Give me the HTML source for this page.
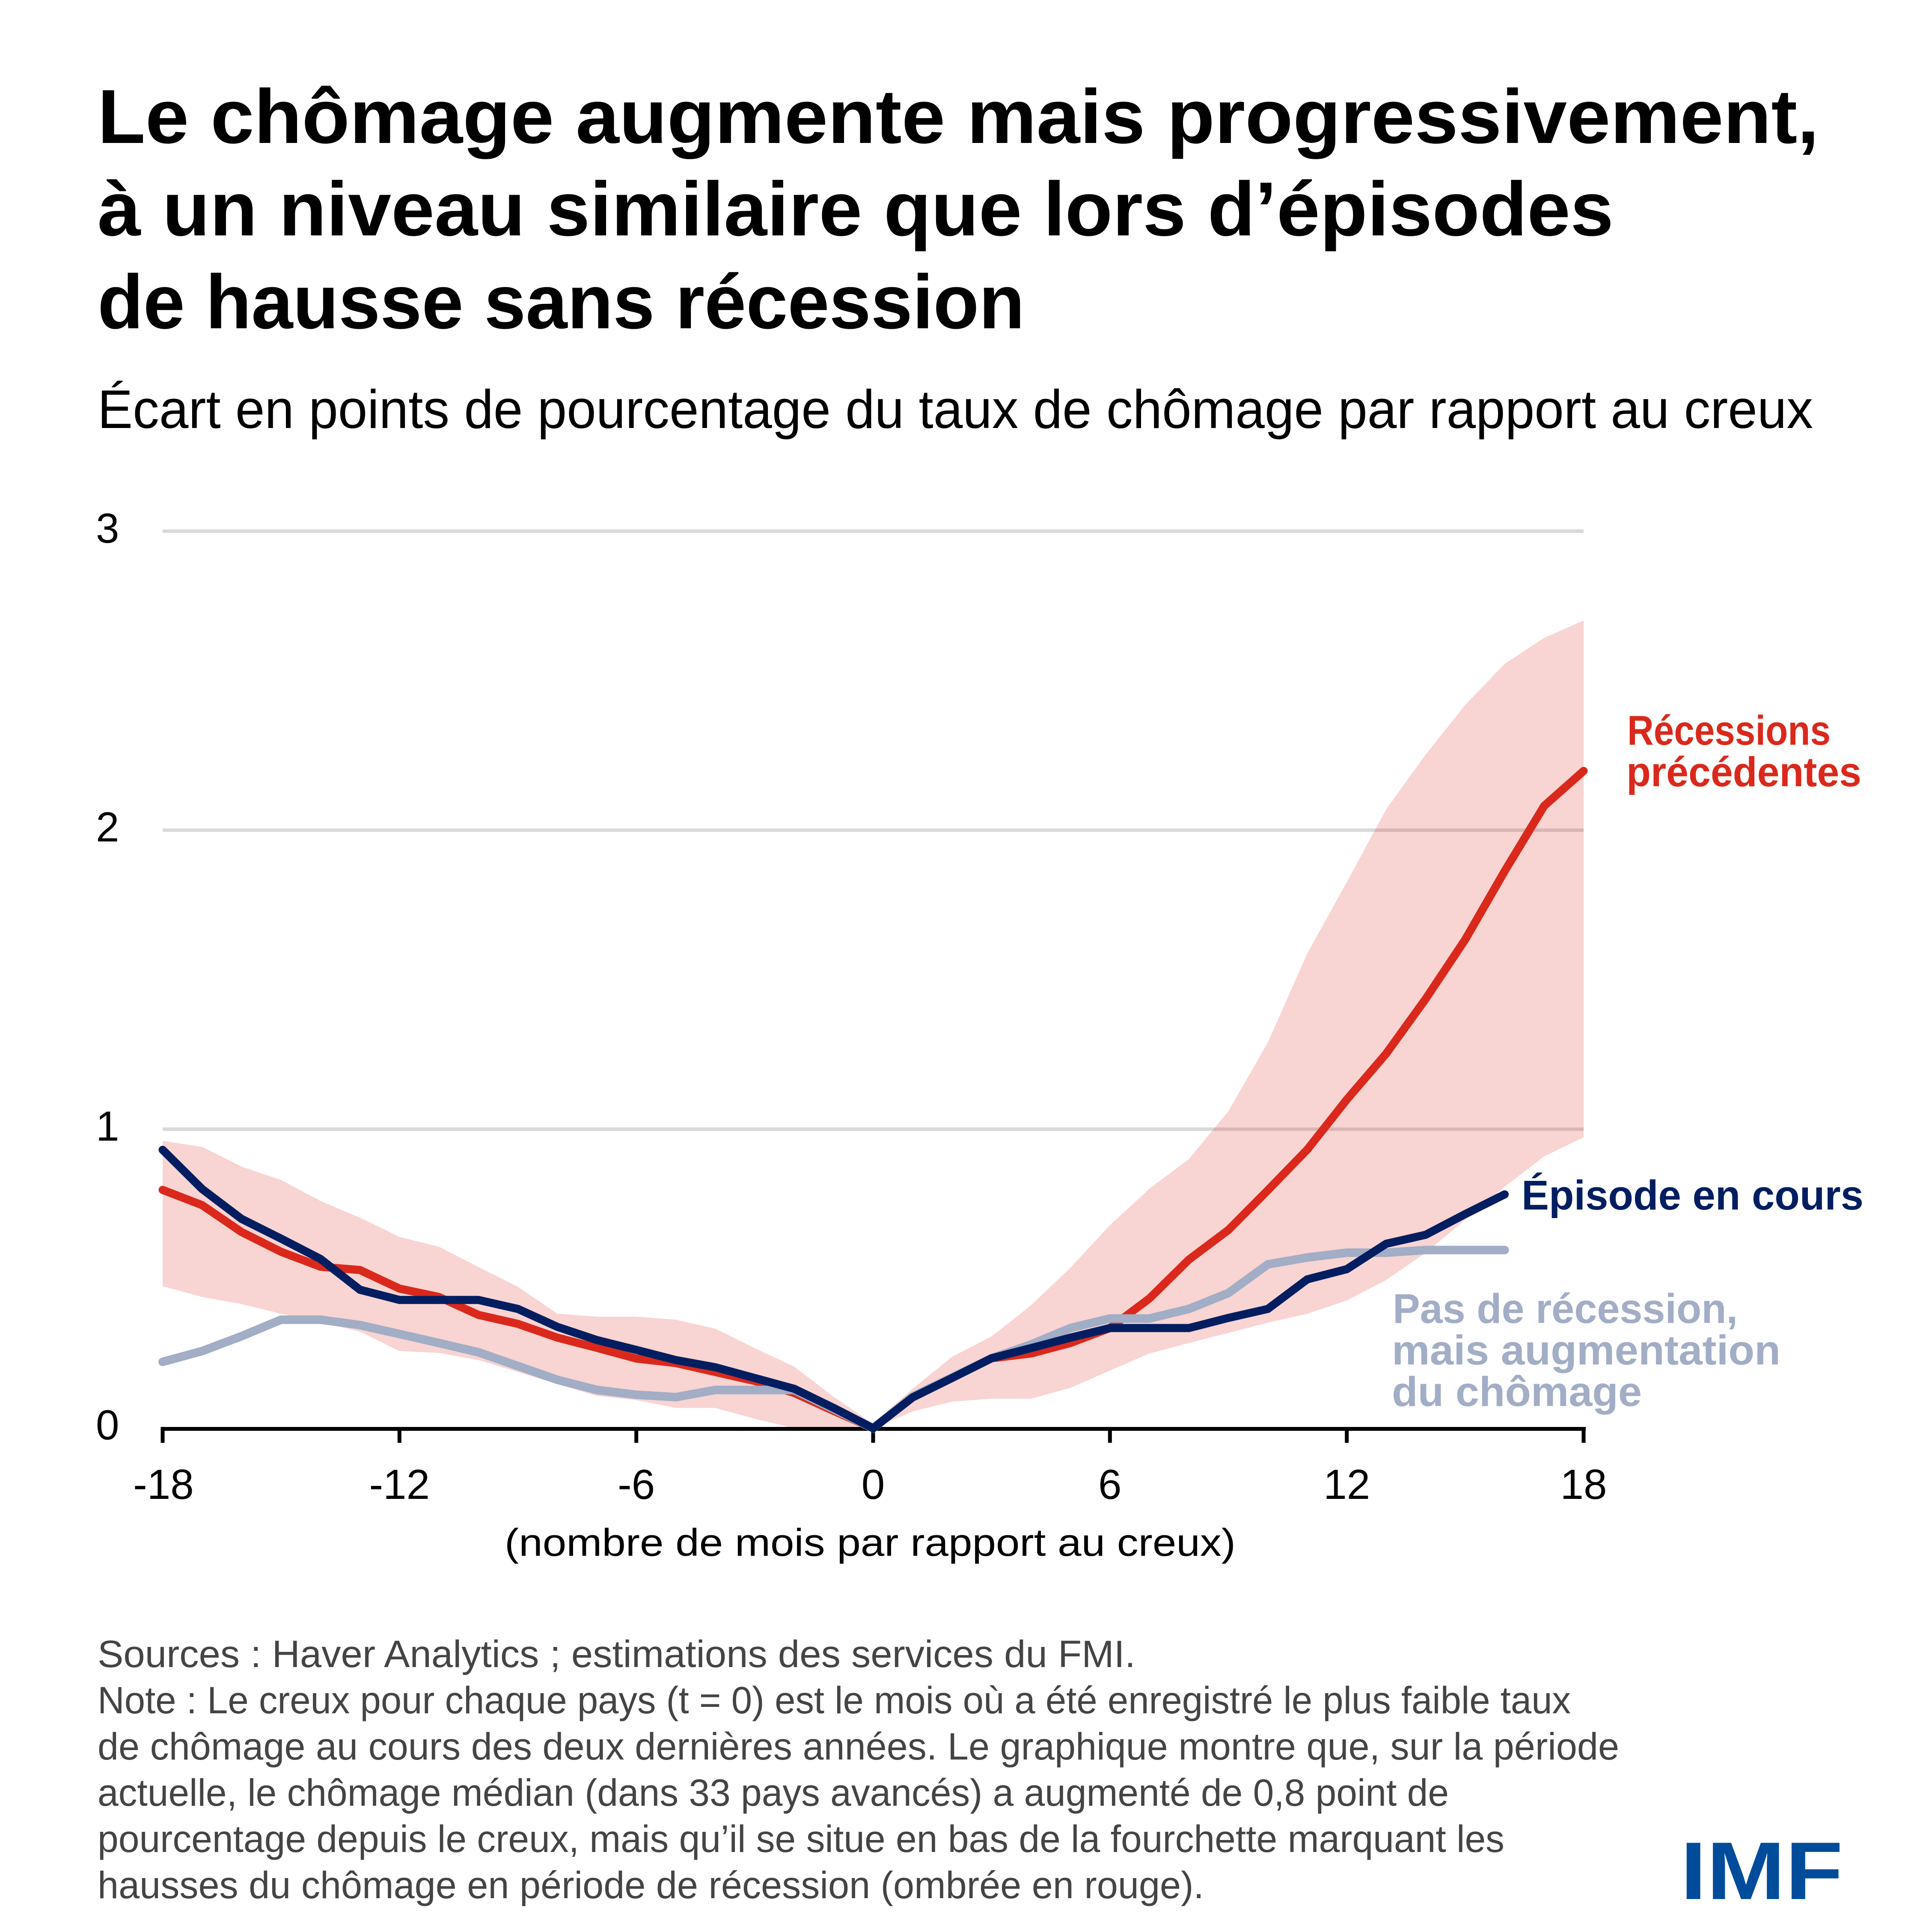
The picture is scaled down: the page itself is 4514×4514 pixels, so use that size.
<!DOCTYPE html>
<html><head><meta charset="utf-8"><style>
html,body{margin:0;padding:0;background:#fff;}
svg{display:block;}
text{font-family:"Liberation Sans",Arial,sans-serif;}
</style></head><body>
<svg width="4514" height="4514" viewBox="0 0 4514 4514" xmlns="http://www.w3.org/2000/svg">
<rect x="0" y="0" width="4514" height="4514" fill="#fff"/>
<!-- Title -->
<g font-weight="700" font-size="179" fill="#000">
<text x="228" y="334" textLength="4022" lengthAdjust="spacingAndGlyphs">Le chômage augmente mais progressivement,</text>
<text x="228" y="550" textLength="3542" lengthAdjust="spacingAndGlyphs">à un niveau similaire que lors d’épisodes</text>
<text x="228" y="767" textLength="2166" lengthAdjust="spacingAndGlyphs">de hausse sans récession</text>
</g>
<text x="228" y="1000" font-size="127" fill="#000" textLength="4008" lengthAdjust="spacingAndGlyphs">Écart en points de pourcentage du taux de chômage par rapport au creux</text>

<!-- gridlines -->
<g stroke="#d9d9d9" stroke-width="8">
<line x1="380" y1="1241" x2="3700" y2="1241"/>
<line x1="380" y1="1939.6" x2="3700" y2="1939.6"/>
<line x1="380" y1="2638.3" x2="3700" y2="2638.3"/>
</g>

<!-- y labels -->
<g font-size="98" fill="#000">
<text x="224" y="1268">3</text>
<text x="224" y="1966">2</text>
<text x="224" y="2665">1</text>
<text x="224" y="3363">0</text>
</g>

<!-- data group -->
<g transform="translate(2040,3337) scale(92.2222,-698.7)">
<polygon fill="#da291c" fill-opacity="0.2" points="-18,0.961 -17,0.941 -16,0.875 -15,0.830 -14,0.760 -13,0.704 -12,0.640 -11,0.607 -10,0.539 -9,0.473 -8,0.383 -7,0.373 -6,0.373 -5,0.363 -4,0.333 -3,0.268 -2,0.206 -1,0.105 0,0.015 1,0.132 2,0.239 3,0.307 4,0.411 5,0.537 6,0.679 7,0.801 8,0.9 9,1.06 10,1.29 11,1.588 12,1.826 13,2.07 14,2.253 15,2.419 16,2.556 17,2.643 18,2.701 18,0.973 17,0.909 16,0.808 15,0.697 14,0.587 13,0.496 12,0.427 11,0.383 10,0.353 9,0.319 8,0.285 7,0.25 6,0.193 5,0.135 4,0.099 3,0.099 2,0.089 1,0.056 0,0 -1,0 -2,0 -3,0.032 -4,0.068 -5,0.068 -6,0.094 -7,0.108 -8,0.148 -9,0.188 -10,0.228 -11,0.252 -12,0.258 -13,0.323 -14,0.355 -15,0.383 -16,0.415 -17,0.439 -18,0.475"/>
</g>

<!-- axis -->
<rect x="376" y="3334" width="3329" height="9" fill="#000"/>
<g fill="#000">
<rect x="375.5" y="3334" width="9" height="37"/>
<rect x="928.8" y="3334" width="9" height="37"/>
<rect x="1482.2" y="3334" width="9" height="37"/>
<rect x="2035.5" y="3334" width="9" height="37"/>
<rect x="2588.8" y="3334" width="9" height="37"/>
<rect x="3142.2" y="3334" width="9" height="37"/>
<rect x="3695.5" y="3334" width="9" height="37"/>
</g>
<g font-size="98" fill="#000" text-anchor="middle">
<text x="382" y="3502">-18</text>
<text x="933.3" y="3502">-12</text>
<text x="1486.7" y="3502">-6</text>
<text x="2040" y="3502">0</text>
<text x="2593.3" y="3502">6</text>
<text x="3146.7" y="3502">12</text>
<text x="3700" y="3502">18</text>
</g>
<text x="2033" y="3635" font-size="90" fill="#000" text-anchor="middle" textLength="1708" lengthAdjust="spacingAndGlyphs">(nombre de mois par rapport au creux)</text>

<!-- lines -->
<g transform="translate(2040,3337) scale(92.2222,-698.7)" fill="none" stroke-linecap="round" stroke-linejoin="miter">
<polyline vector-effect="non-scaling-stroke" stroke="#da291c" stroke-width="19" points="-18,0.797 -17,0.746 -16,0.656 -15,0.59 -14,0.54 -13,0.529 -12,0.467 -11,0.439 -10,0.379 -9,0.349 -8,0.303 -7,0.269 -6,0.233 -5,0.218 -4,0.188 -3,0.158 -2,0.118 -1,0.058 0,0 1,0.106 2,0.170 3,0.234 4,0.25 5,0.285 6,0.335 7,0.434 8,0.564 9,0.663 10,0.796 11,0.932 12,1.099 13,1.253 14,1.436 15,1.634 16,1.863 17,2.081 18,2.198"/>
<polyline vector-effect="non-scaling-stroke" stroke="#a2adc6" stroke-width="20" points="-18,0.222 -17,0.258 -16,0.308 -15,0.363 -14,0.363 -13,0.345 -12,0.315 -11,0.285 -10,0.254 -9,0.208 -8,0.162 -7,0.128 -6,0.112 -5,0.104 -4,0.128 -3,0.128 -2,0.128 -1,0.064 0,0 1,0.106 2,0.170 3,0.234 4,0.28 5,0.335 6,0.367 7,0.367 8,0.399 9,0.452 10,0.548 11,0.571 12,0.587 13,0.587 14,0.596 15,0.596 16,0.596"/>
<polyline vector-effect="non-scaling-stroke" stroke="#031e60" stroke-width="19" points="-18,0.931 -17,0.80 -16,0.70 -15,0.634 -14,0.566 -13,0.463 -12,0.429 -11,0.429 -10,0.429 -9,0.399 -8,0.339 -7,0.295 -6,0.262 -5,0.228 -4,0.204 -3,0.168 -2,0.132 -1,0.068 0,0 1,0.103 2,0.168 3,0.234 4,0.268 5,0.303 6,0.335 7,0.335 8,0.335 9,0.369 10,0.399 11,0.498 12,0.532 13,0.617 14,0.647 15,0.716 16,0.782"/>
</g>

<!-- series labels -->
<g font-weight="700" font-size="97">
<text x="3802" y="1740" fill="#da291c" textLength="475" lengthAdjust="spacingAndGlyphs">Récessions</text>
<text x="3800" y="1837" fill="#da291c" textLength="549" lengthAdjust="spacingAndGlyphs">précédentes</text>
<text x="3555" y="2826" fill="#031e60" textLength="799" lengthAdjust="spacingAndGlyphs">Épisode en cours</text>
<text x="3254" y="3091" fill="#a2adc6" textLength="806" lengthAdjust="spacingAndGlyphs">Pas de récession,</text>
<text x="3252" y="3188" fill="#a2adc6" textLength="908" lengthAdjust="spacingAndGlyphs">mais augmentation</text>
<text x="3252" y="3285" fill="#a2adc6" textLength="584" lengthAdjust="spacingAndGlyphs">du chômage</text>
</g>

<!-- footer -->
<g font-size="89" fill="#444">
<text x="228" y="3895" textLength="2425" lengthAdjust="spacingAndGlyphs">Sources : Haver Analytics ; estimations des services du FMI.</text>
<text x="228" y="4003" textLength="3442" lengthAdjust="spacingAndGlyphs">Note : Le creux pour chaque pays (t = 0) est le mois où a été enregistré le plus faible taux</text>
<text x="228" y="4111" textLength="3555" lengthAdjust="spacingAndGlyphs">de chômage au cours des deux dernières années. Le graphique montre que, sur la période</text>
<text x="228" y="4219" textLength="3157" lengthAdjust="spacingAndGlyphs">actuelle, le chômage médian (dans 33 pays avancés) a augmenté de 0,8 point de</text>
<text x="228" y="4327" textLength="3287" lengthAdjust="spacingAndGlyphs">pourcentage depuis le creux, mais qu’il se situe en bas de la fourchette marquant les</text>
<text x="228" y="4435" textLength="2585" lengthAdjust="spacingAndGlyphs">hausses du chômage en période de récession (ombrée en rouge).</text>
</g>

<!-- IMF logo -->
<text x="3926" y="4437" font-size="191" font-weight="700" fill="#004c9b" textLength="380" lengthAdjust="spacingAndGlyphs">IMF</text>
</svg>
</body></html>
